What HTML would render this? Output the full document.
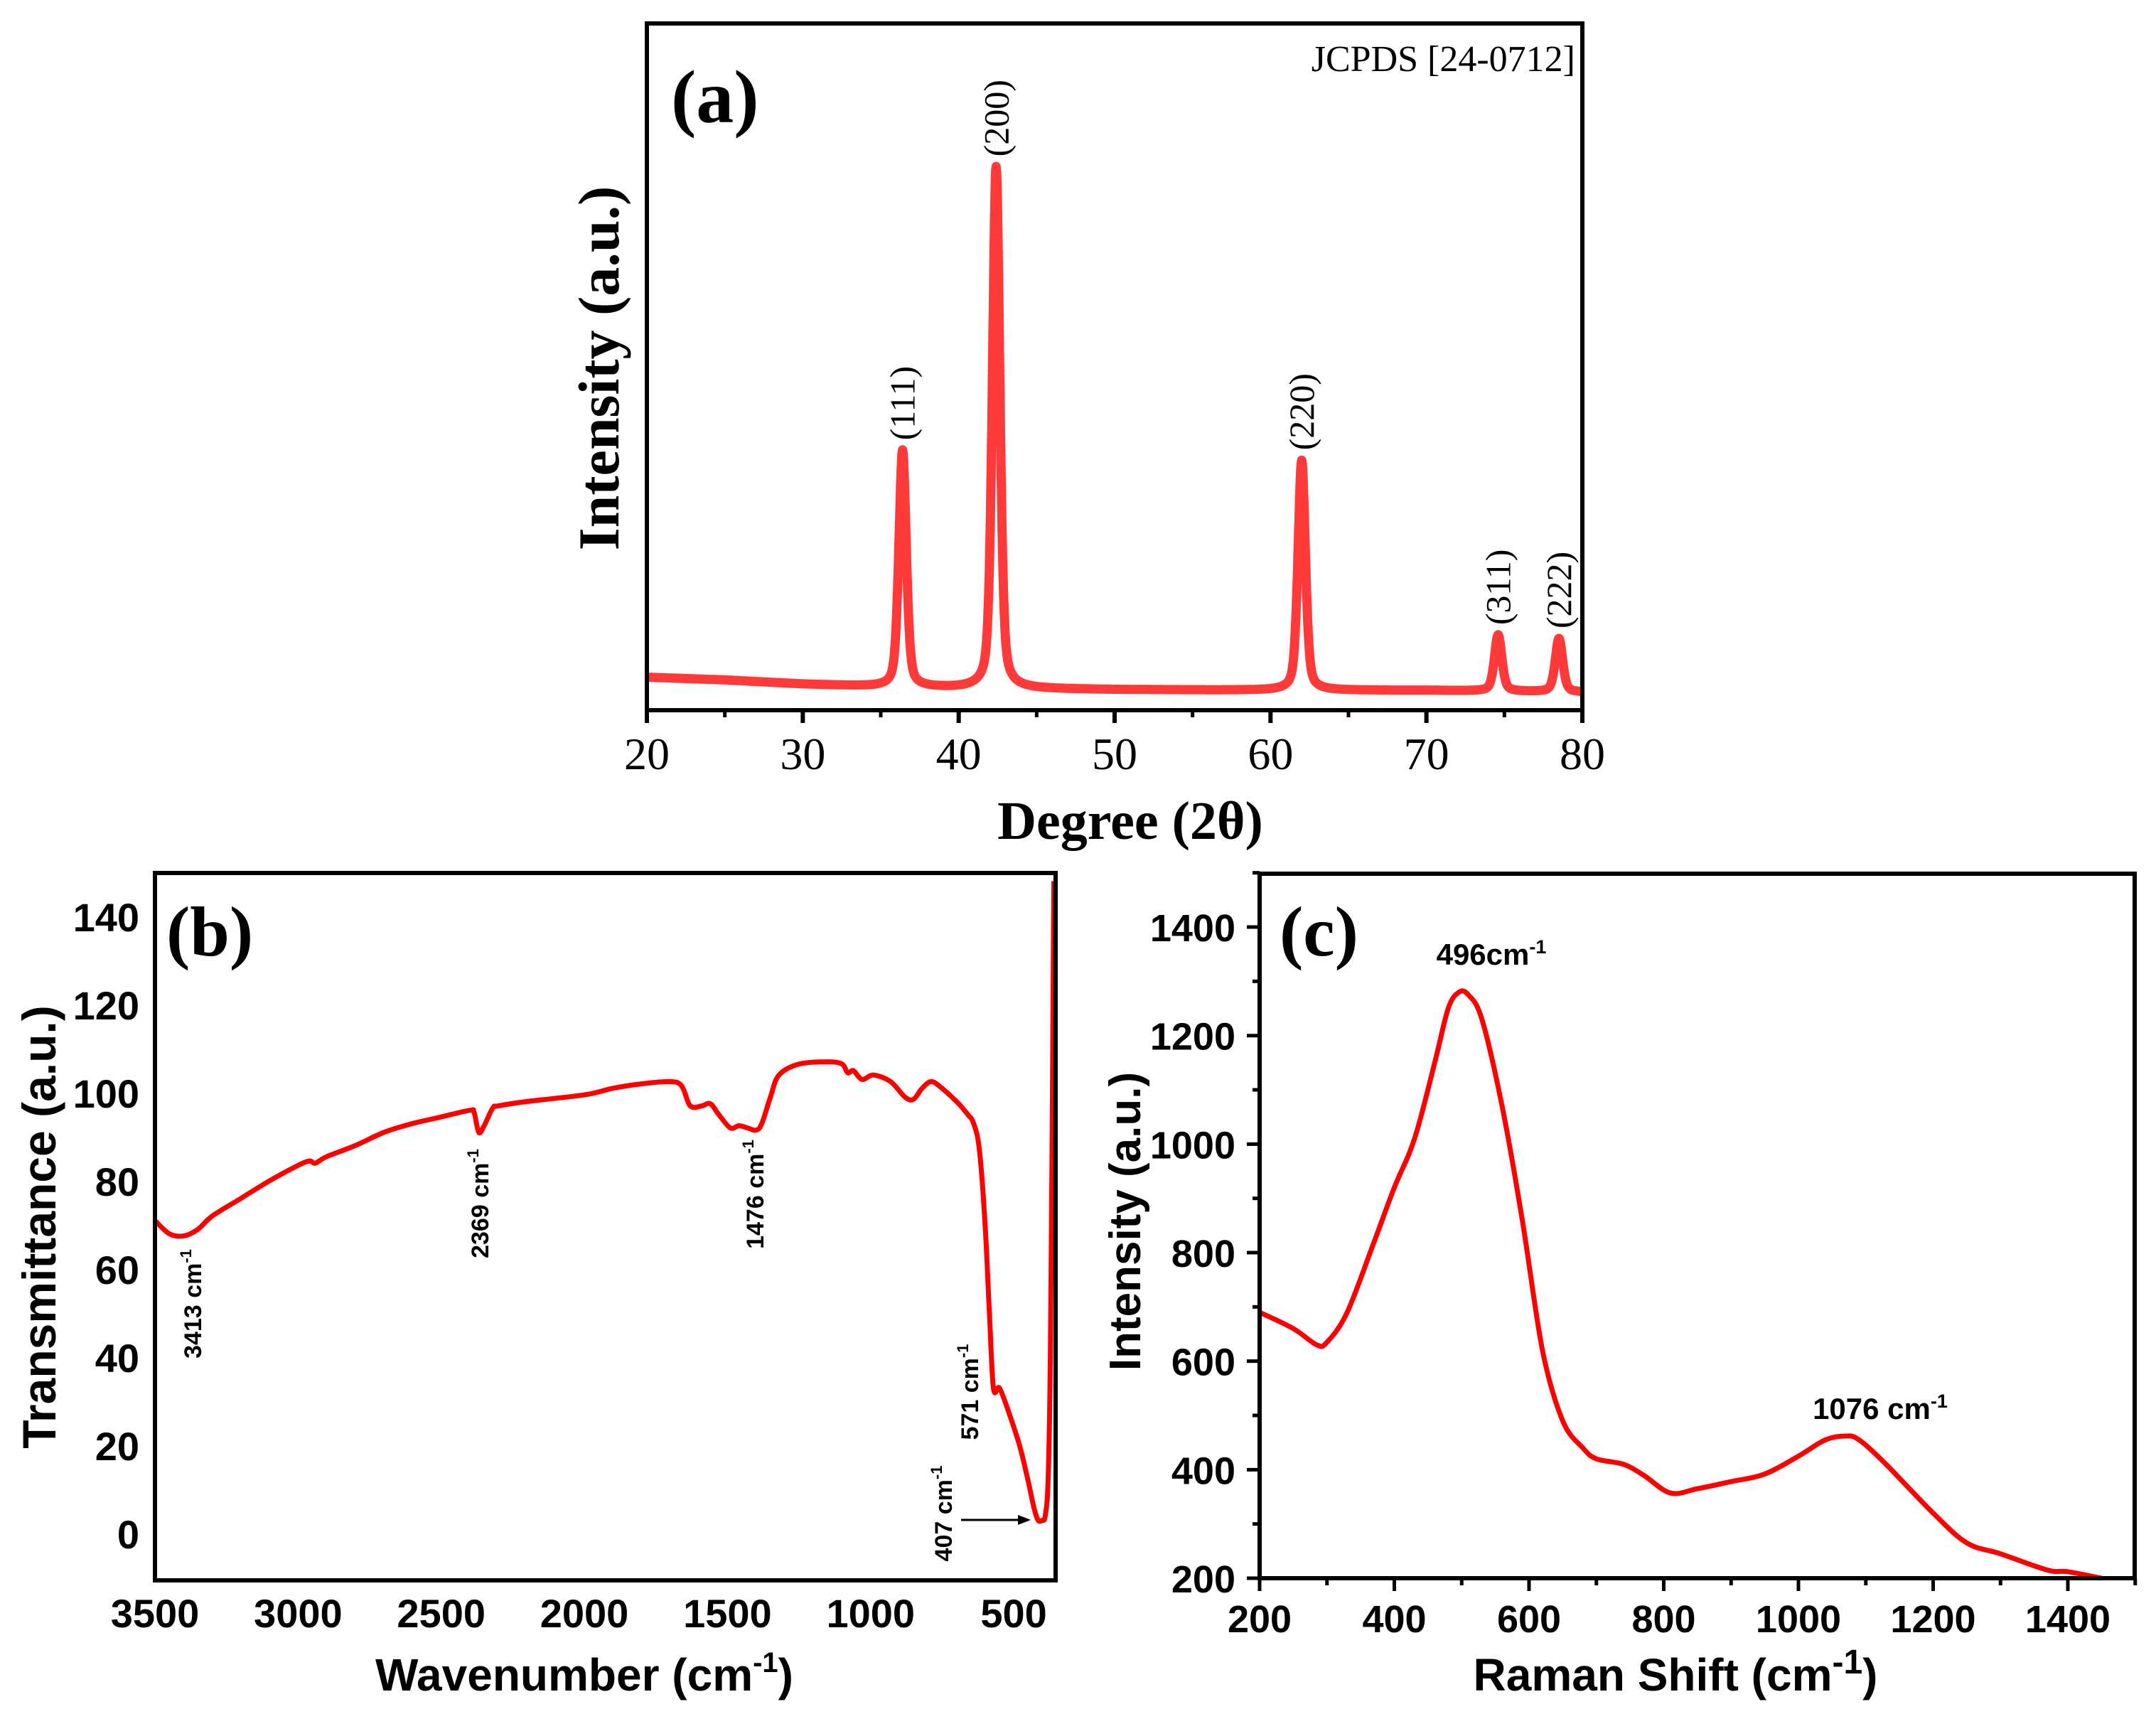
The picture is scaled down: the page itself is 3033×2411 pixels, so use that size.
<!DOCTYPE html>
<html><head><meta charset="utf-8"><style>
html,body{margin:0;padding:0;background:#fff;}
svg{display:block;}
.ser{font-family:"Liberation Serif",serif;}
.san{font-family:"Liberation Sans",sans-serif;}
</style></head><body>
<svg id="fig" width="3033" height="2411" viewBox="0 0 3033 2411" xmlns="http://www.w3.org/2000/svg">
<rect width="3033" height="2411" fill="#fff"/>
<g id="pa"></g>
<g id="pb"></g>
<g id="pc"></g>
</svg>
<script>
// ---- Panel (a) XRD data ----
const xrdPeakPos = [36.4, 42.4, 62.0, 74.6, 78.5];
const xrdPeakHeight = [34.5, 76.0, 33.5, 8.2, 7.8];
const xrdPeakLabels = ["(111)", "(200)", "(220)", "(311)", "(222)"];
const xrdBaseX = [20, 25, 30, 35, 40, 50, 60, 70, 80];
const xrdBaseY = [4.8, 4.4, 3.8, 3.4, 3.2, 3.0, 2.9, 2.9, 2.6];
const xrdXTicks = [20, 30, 40, 50, 60, 70, 80];
// ---- Panel (b) FTIR data ----
const ftirWave = [3500,3450,3400,3350,3300,3200,3100,3000,2960,2940,2900,2800,2700,2600,2500,2400,2385,2369,2350,2320,2300,2200,2000,1900,1800,1700,1660,1630,1590,1560,1530,1490,1460,1430,1400,1380,1350,1320,1250,1150,1100,1080,1060,1030,990,930,880,850,820,790,760,700,660,640,620,600,585,571,550,520,480,450,430,415,400,390,380,372,366,360];
const ftirTrans = [71,68,67.5,69,72,76,80,83.5,84.5,84,85.5,88,91,93,94.5,96,95.5,91,92.5,96.5,97,98,99.5,101,102,102.5,101.5,97,97,97.5,95,92,92.5,92,91.5,93,99,104,106.5,107,106.5,104.5,105,103,104,102.5,99,98.5,101,102.5,101.5,98,95,93,87,70,50,33,33,28,20,12,6,3,3,4,12,40,90,148];
const ftirYTicks = [0,20,40,60,80,100,120,140];
const ftirXTicks = [3500,3000,2500,2000,1500,1000,500];
const ftirAnn = ["3413","2369","1476","571","407"];
// ---- Panel (c) Raman data ----
const ramanShift = [200,250,285,300,330,370,400,430,460,480,496,510,530,560,590,620,650,680,700,740,770,810,850,900,950,1000,1040,1070,1090,1130,1200,1250,1300,1370,1400,1450];
const ramanInt = [690,660,630,635,690,820,920,1010,1150,1250,1280,1275,1230,1070,860,620,490,440,420,410,390,357,365,378,392,425,455,462,455,410,320,265,245,215,212,200];
const ramanYTicks = [200,400,600,800,1000,1200,1400];
const ramanXTicks = [200,400,600,800,1000,1200,1400];

const NS="http://www.w3.org/2000/svg";
function el(tag, attrs, parent, text){
  const e=document.createElementNS(NS,tag);
  for(const k in attrs) e.setAttribute(k,attrs[k]);
  if(text!==undefined) e.textContent=text;
  parent.appendChild(e); return e;
}
function interp(xs, ys, x){
  for(let i=0;i<xs.length-1;i++){
    const a=xs[i],b=xs[i+1];
    if((x>=a&&x<=b)||(x<=a&&x>=b)){const t=(x-a)/(b-a);return ys[i]+t*(ys[i+1]-ys[i]);}
  }
  return ys[ys.length-1];
}
function smoothPath(pts){
  let d="M"+pts[0][0].toFixed(1)+","+pts[0][1].toFixed(1);
  for(let i=0;i<pts.length-1;i++){
    const p0=pts[Math.max(0,i-1)],p1=pts[i],p2=pts[i+1],p3=pts[Math.min(pts.length-1,i+2)];
    const c1=[p1[0]+(p2[0]-p0[0])/6,p1[1]+(p2[1]-p0[1])/6];
    const c2=[p2[0]-(p3[0]-p1[0])/6,p2[1]-(p3[1]-p1[1])/6];
    d+=" C"+c1[0].toFixed(1)+","+c1[1].toFixed(1)+" "+c2[0].toFixed(1)+","+c2[1].toFixed(1)+" "+p2[0].toFixed(1)+","+p2[1].toFixed(1);
  }
  return d;
}

// ================= Panel A =================
(function(){
  const g=document.getElementById('pa');
  const L=910,R=2226,T=33,B=999;
  const xs=d=>L+(d-20)*(R-L)/60;
  const ys=v=>B-v*(B-T)/100;
  let d="";
  for(let x=20;x<=80.0001;x+=0.02){
    let v=interp(xrdBaseX,xrdBaseY,x);
    for(let i=0;i<xrdPeakPos.length;i++){
      const dx=(x-xrdPeakPos[i])/0.28;
      v+=xrdPeakHeight[i]*(0.6*Math.exp(-dx*dx*0.693)+0.4/(1+dx*dx));
    }
    d+=(d?"L":"M")+xs(x).toFixed(1)+","+ys(v).toFixed(1);
  }
  const line=el('path',{d:d,fill:'none',stroke:'#ff3a3a','stroke-width':13,'stroke-linejoin':'round'},g);
  
  
  const frame=el('rect',{x:L,y:T,width:R-L,height:B-T,fill:'none',stroke:'#000','stroke-width':6},g);
  
  
  for(let t=20;t<=80;t+=5){
    const major=t%10===0;
    const tk=el('line',{x1:xs(t),x2:xs(t),y1:B,y2:B+(major?18:10),stroke:'#000','stroke-width':major?6:5},g);
    
    
  }
  xrdXTicks.forEach(t=>{
    const tl=el('text',{x:xs(t),y:1082,'text-anchor':'middle','font-size':64,class:'ser'},g,String(t));
    
    
  });
  xrdPeakPos.forEach((p,i)=>{
    const top=ys(interp(xrdBaseX,xrdBaseY,p)+xrdPeakHeight[i])-14;
    const tx=el('text',{x:0,y:0,'text-anchor':'start','font-size':50,class:'ser',transform:'translate('+(xs(p)+17)+','+top+') rotate(-90)'},g,xrdPeakLabels[i]);
    
    
  });
  const a1=el('text',{x:944,y:172,'font-size':106,'font-weight':'bold',class:'ser'},g,"(a)");
  
  
  const a2=el('text',{x:2216,y:100,'text-anchor':'end','font-size':52,class:'ser'},g,"JCPDS [24-0712]");
  
  
  const a3=el('text',{x:1590,y:1180,'text-anchor':'middle','font-size':76,'font-weight':'bold',class:'ser'},g,"Degree (2θ)");
  
  
  const a4=el('text',{x:0,y:0,'text-anchor':'middle','font-size':82,'font-weight':'bold',class:'ser',transform:'translate(870,518) rotate(-90)'},g,"Intensity (a.u.)");
  
  
})();

// ================= Panel B =================
(function(){
  const g=document.getElementById('pb');
  const L=218,R=1485,T=1228,B=2223;
  const xs=w=>L+(3500-w)*0.4027;
  const ys=v=>2157-v*6.2;
  const pts=ftirWave.map((w,i)=>[xs(w),ys(ftirTrans[i])]);
  const line=el('path',{d:smoothPath(pts),fill:'none',stroke:'#ff0000','stroke-width':7,'stroke-linejoin':'round'},g);
  
  
  const frame=el('rect',{x:L,y:T,width:R-L,height:B-T,fill:'none',stroke:'#000','stroke-width':6},g);
  
  
  ftirYTicks.forEach(t=>{
    const tl=el('text',{x:196,y:ys(t)+21,'text-anchor':'end','font-size':56,'font-weight':'bold',class:'san'},g,String(t));
    
    
  });
  ftirXTicks.forEach(t=>{
    const tl=el('text',{x:xs(t),y:2289,'text-anchor':'middle','font-size':56,'font-weight':'bold',class:'san'},g,String(t));
    
    
  });
  const annX=[271,675,1062,1364,1327], annY=[1834,1693,1680,1958,2129];
  ftirAnn.forEach((a,i)=>{
    const t=el('text',{x:0,y:0,'text-anchor':'middle','font-size':34,'font-weight':'bold',class:'san',transform:'translate('+(annX[i]+12)+','+annY[i]+') rotate(-90)'},g);
    
    
    t.appendChild(document.createTextNode(a+" cm"));
    el('tspan',{dy:-14,'font-size':22},t,"-1");
  });
  const ar=el('line',{x1:1352,y1:2138,x2:1438,y2:2138,stroke:'#000','stroke-width':3},g);
  
  
  const ah=el('polygon',{points:'1450,2138 1432,2131 1432,2145',fill:'#000'},g);
  
  
  const b1=el('text',{x:234,y:1344,'font-size':100,'font-weight':'bold',class:'ser'},g,"(b)");
  
  
  const b2=el('text',{x:822,y:2378,'text-anchor':'middle','font-size':64,'font-weight':'bold',class:'san'},g);
  
  
  b2.appendChild(document.createTextNode("Wavenumber (cm"));
  el('tspan',{dy:-26,'font-size':40},b2,"-1");
  el('tspan',{dy:26},b2,")");
  const b3=el('text',{x:0,y:0,'text-anchor':'middle','font-size':66,'font-weight':'bold',class:'san',transform:'translate(78,1726) rotate(-90)'},g,"Transmittance (a.u.)");
  
  
})();

// ================= Panel C =================
(function(){
  const g=document.getElementById('pc');
  const L=1772,R=3003,T=1229,B=2220;
  const xs=s=>L+(s-200)*0.9475;
  const ys=v=>B-(v-200)*0.7633;
  const pts=ramanShift.map((s,i)=>[xs(s),ys(ramanInt[i])]);
  const line=el('path',{d:smoothPath(pts),fill:'none',stroke:'#ff0000','stroke-width':7,'stroke-linejoin':'round'},g);
  
  
  const frame=el('rect',{x:L,y:T,width:R-L,height:B-T,fill:'none',stroke:'#000','stroke-width':6},g);
  
  
  for(let v=200;v<=1500;v+=100){
    const major=v%200===0;
    const tk=el('line',{x1:L,x2:L-(major?18:10),y1:ys(v),y2:ys(v),stroke:'#000','stroke-width':5},g);
    
    
  }
  for(let s=200;s<=1500;s+=100){
    const major=s%200===0;
    const tk=el('line',{x1:xs(s),x2:xs(s),y1:B,y2:B+(major?18:10),stroke:'#000','stroke-width':5},g);
    
    
  }
  ramanYTicks.forEach(t=>{
    const tl=el('text',{x:1738,y:ys(t)+20,'text-anchor':'end','font-size':54,'font-weight':'bold',class:'san'},g,String(t));
    
    
  });
  ramanXTicks.forEach(t=>{
    const tl=el('text',{x:xs(t),y:2296,'text-anchor':'middle','font-size':54,'font-weight':'bold',class:'san'},g,String(t));
    
    
  });
  const c1=el('text',{x:1800,y:1344,'font-size':100,'font-weight':'bold',class:'ser'},g,"(c)");
  
  
  const p1=el('text',{x:2098,y:1357,'text-anchor':'middle','font-size':42,'font-weight':'bold',class:'san'},g);
  
  
  p1.appendChild(document.createTextNode("496cm"));
  el('tspan',{dy:-16,'font-size':27},p1,"-1");
  const p2=el('text',{x:2645,y:1996,'text-anchor':'middle','font-size':42,'font-weight':'bold',class:'san'},g);
  
  
  p2.appendChild(document.createTextNode("1076 cm"));
  el('tspan',{dy:-16,'font-size':27},p2,"-1");
  const c2=el('text',{x:2357,y:2378,'text-anchor':'middle','font-size':64,'font-weight':'bold',class:'san'},g);
  
  
  c2.appendChild(document.createTextNode("Raman Shift (cm"));
  el('tspan',{dy:-24,'font-size':48},c2,"-1");
  el('tspan',{dy:24},c2,")");
  const c3=el('text',{x:0,y:0,'text-anchor':'middle','font-size':62,'font-weight':'bold',class:'san',transform:'translate(1604,1718) rotate(-90)'},g,"Intensity (a.u.)");
  
  
})();
</script>
</body></html>
